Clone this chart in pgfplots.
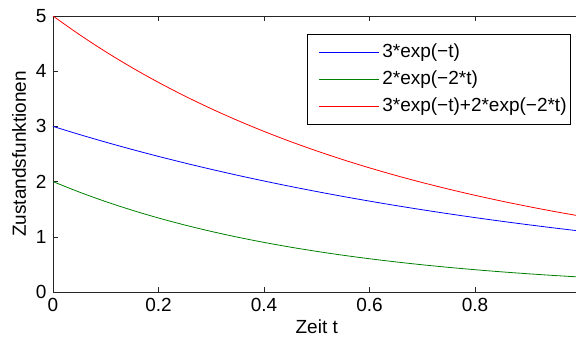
\documentclass[border=0pt]{standalone}
\usepackage{fontspec}
\setmainfont{Liberation Sans}
\usepackage{pgfplots}
\pgfplotsset{compat=1.18}
\definecolor{mblue}{RGB}{0,0,255}
\definecolor{mgreen}{RGB}{0,128,0}
\definecolor{mred}{RGB}{255,0,0}
\begin{document}
\fontsize{19bp}{23bp}\selectfont
\begin{tikzpicture}
\begin{axis}[
  scale only axis, width=527.5bp, height=276bp,
  xmin=0, xmax=1, ymin=0, ymax=5,
  xtick={0,0.2,0.4,0.6,0.8}, ytick={0,1,2,3,4,5},
  xticklabels={0,0.2,0.4,0.6,0.8},
  /pgf/number format/assume math mode=true,
  font=\fontsize{19bp}{23bp}\selectfont,
  axis line style={line width=0.8bp, black!85},
  major tick length=5bp,
  tick style={black!85, line width=0.6bp},
  xlabel={Zeit t}, ylabel={Zustandsfunktionen},
  xlabel style={at={(axis description cs:0.5,-0.152)}, anchor=base},
  ylabel style={at={(axis description cs:-0.0645,0.5)}, anchor=center},
  legend cell align=left,
  % sample line: 60bp long, after a 10bp blank lead-in
  legend image code/.code={\draw[#1, dash pattern=on 60bp off 10bp, dash phase=60bp]
    (0bp,0bp) -- (70bp,0bp);},
  legend style={at={(rel axis cs:0.982,0.935)}, anchor=north east,
    draw=black, line width=0.8bp, fill=white,
    inner xsep=1.5bp, inner ysep=7bp, row sep=5.5bp,
    nodes={inner sep=2.5bp}},
  every axis plot/.append style={line width=0.8bp},
]
% 3*exp(-t)
\addplot[mblue, smooth] coordinates {
 (0,3.0000) (0.05,2.8537) (0.10,2.7145) (0.15,2.5821) (0.20,2.4562)
 (0.25,2.3364) (0.30,2.2225) (0.35,2.1141) (0.40,2.0110) (0.45,1.9129)
 (0.50,1.8196) (0.55,1.7308) (0.60,1.6464) (0.65,1.5661) (0.70,1.4898)
 (0.75,1.4171) (0.80,1.3480) (0.85,1.2822) (0.90,1.2197) (0.95,1.1602)
 (1.00,1.1036)};
\addlegendentry{3*exp(−t)}
% 2*exp(-2*t)
\addplot[mgreen, smooth] coordinates {
 (0,2.0000) (0.05,1.8097) (0.10,1.6375) (0.15,1.4816) (0.20,1.3406)
 (0.25,1.2131) (0.30,1.0976) (0.35,0.9932) (0.40,0.8987) (0.45,0.8131)
 (0.50,0.7358) (0.55,0.6657) (0.60,0.6024) (0.65,0.5451) (0.70,0.4932)
 (0.75,0.4463) (0.80,0.4038) (0.85,0.3654) (0.90,0.3306) (0.95,0.2991)
 (1.00,0.2707)};
\addlegendentry{2*exp(−2*t)}
% sum of both
\addplot[mred, smooth] coordinates {
 (0,5.0000) (0.05,4.6634) (0.10,4.3520) (0.15,4.0637) (0.20,3.7968)
 (0.25,3.5495) (0.30,3.3201) (0.35,3.1073) (0.40,2.9097) (0.45,2.7260)
 (0.50,2.5554) (0.55,2.3965) (0.60,2.2488) (0.65,2.1112) (0.70,1.9830)
 (0.75,1.8634) (0.80,1.7518) (0.85,1.6476) (0.90,1.5503) (0.95,1.4593)
 (1.00,1.3743)};
\addlegendentry{3*exp(−t)+2*exp(−2*t)}
\end{axis}
\pgfresetboundingbox
\path[use as bounding box] ([xshift=-53bp,yshift=-46bp]current axis.south west)
  rectangle ([xshift=-4.5bp,yshift=16bp]current axis.north east);
\end{tikzpicture}
\end{document}
